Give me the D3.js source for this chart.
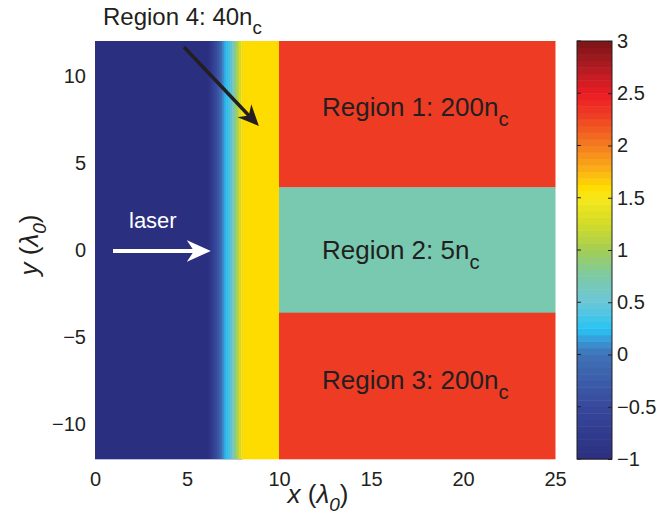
<!DOCTYPE html>
<html><head><meta charset="utf-8">
<script src="https://cdn.jsdelivr.net/npm/d3@7"></script>
<style>body{margin:0;background:#fff}svg{display:block}text{font-family:"Liberation Sans",Arial,Helvetica,sans-serif}</style>
</head><body><svg id="c" width="656" height="522"></svg>
<script>
// ---- data ----
const xDomain = [0, 25];
const yDomain = [-12, 12];
const xTicks = [0, 5, 10, 15, 20, 25];
const yTicks = [-10, -5, 0, 5, 10];
const cTicks = [-1, -0.5, 0, 0.5, 1, 1.5, 2, 2.5, 3];
const cDomain = [-1, 3];
// log10(n/nc) blocks
const regionNames = ["vacuum", "Region 4", "Region 1", "Region 2", "Region 3"];
const regionX0 = [0, 8, 10, 10, 10];
const regionX1 = [8, 10, 25, 25, 25];
const regionY0 = [-12, -12, 3.6, -3.6, -12];
const regionY1 = [12, 12, 12, 3.6, -3.6];
const regionVal = [-1, 1.602, 2.301, 0.699, 2.301];
// pre-plasma ramp columns, 0.1 lambda wide
const rampX = [6.0, 6.1, 6.2, 6.3, 6.4, 6.5, 6.6, 6.7, 6.8, 6.9, 7.0, 7.1, 7.2, 7.3, 7.4, 7.5, 7.6, 7.7, 7.8, 7.9];
const rampVal = [-1.0, -0.95, -0.86, -0.76, -0.64, -0.52, -0.38, -0.23, -0.07, 0.07, 0.17, 0.26, 0.34, 0.44, 0.56, 0.71, 0.89, 1.08, 1.28, 1.48];
// colormap stops
const cmapVal = [-1, -0.5, 0, 0.12, 0.25, 0.5, 0.75, 1.0, 1.25, 1.5, 1.6, 1.75, 2.0, 2.3, 2.5, 2.75, 3];
const cmapCol = ["#2b2f80", "#37489c", "#3f72b6", "#3a95d4", "#27c4f3", "#6cc7d8", "#7cc9a7", "#a3cd55", "#d2dc28", "#f6e71a", "#fedd00", "#fbb415", "#f47d20", "#ee3b24", "#ec1c24", "#b11c22", "#7a1416"];

// ---- layout ----
const svg = d3.select("#c");
const INK = "#231f20";
const L = 95, R = 555, T = 41, B = 459;
const x = d3.scaleLinear().domain(xDomain).range([L, R]);
const y = d3.scaleLinear().domain(yDomain).range([B, T]);
const cont = d3.scaleLinear().domain(cmapVal).range(cmapCol).interpolate(d3.interpolateRgb).clamp(true);
const nLev = 64;

const g = svg.append("g");
g.selectAll("rect.reg").data(regionVal).join("rect")
  .attr("x", (d, i) => x(regionX0[i])).attr("width", (d, i) => x(regionX1[i]) - x(regionX0[i]) + 0.5)
  .attr("y", (d, i) => y(regionY1[i])).attr("height", (d, i) => y(regionY0[i]) - y(regionY1[i]) + 0.3)
  .attr("fill", d => cont(d));
g.selectAll("rect.ramp").data(rampVal).join("rect")
  .attr("x", (d, i) => x(rampX[i])).attr("width", x(0.1) - x(0) + 0.4)
  .attr("y", y(yDomain[1])).attr("height", y(yDomain[0]) - y(yDomain[1]))
  .attr("fill", d => cont(d));

// axes
const fs = 20;
const fmt = d => d < 0 ? "\u2212" + Math.abs(d) : String(d);
const xa = svg.append("g").attr("transform", `translate(0,${B})`)
  .call(d3.axisBottom(x).tickValues(xTicks).tickSize(0).tickPadding(11).tickFormat(fmt));
const ya = svg.append("g").attr("transform", `translate(${L},0)`)
  .call(d3.axisLeft(y).tickValues(yTicks).tickSize(0).tickPadding(9).tickFormat(fmt));
[xa, ya].forEach(a => { a.select(".domain").remove(); a.selectAll("text").attr("font-size", fs).attr("font-family", '"Liberation Sans",Arial,sans-serif').attr("fill", INK); });
xa.selectAll("text").attr("dy", "0.78em");

// axis labels
function axisTitle(t, v) {
  t.append("tspan").attr("font-style", "italic").text(v);
  t.append("tspan").text(" (");
  t.append("tspan").attr("font-style", "italic").text("\u03bb");
  t.append("tspan").attr("font-style", "italic").attr("font-size", 19).attr("dy", 8).text("0");
  t.append("tspan").attr("dy", -8).text(")");
}
axisTitle(svg.append("text").attr("x", 318).attr("y", 503).attr("text-anchor", "middle").attr("font-size", 26).attr("fill", INK), "x");
axisTitle(svg.append("text").attr("transform", "translate(38,245) rotate(-90)").attr("text-anchor", "middle").attr("font-size", 26).attr("fill", INK), "y");

// region labels
function label(txt, sub, lx, ly, size) {
  const t = svg.append("text").attr("x", lx).attr("y", ly).attr("font-size", size).attr("fill", INK);
  t.append("tspan").text(txt);
  t.append("tspan").attr("font-size", size * 0.78).attr("dy", size * 0.38).text(sub);
  return t;
}
label("Region 1: 200n", "c", 322, 116, 26);
label("Region 2: 5n", "c", 322, 259, 26);
label("Region 3: 200n", "c", 322, 389, 26);
label("Region 4: 40n", "c", 103, 25, 24);
svg.append("text").attr("x", 129).attr("y", 228).attr("font-size", 22).attr("fill", "#fff").text("laser");

// arrows
const defs = svg.append("defs");
function arrow(id, col) {
  defs.append("marker").attr("id", id).attr("viewBox", "0 0 10 10").attr("refX", 8).attr("refY", 5)
    .attr("markerWidth", 6).attr("markerHeight", 6).attr("orient", "auto").attr("markerUnits", "strokeWidth")
    .append("path").attr("d", "M0,0.5 L10,5 L0,9.5 L3,5 Z").attr("fill", col);
}
arrow("ab", INK); arrow("aw", "#fff");
svg.append("line").attr("x1", 184).attr("y1", 47).attr("x2", 256).attr("y2", 123).attr("stroke", INK).attr("stroke-width", 3.5).attr("marker-end", "url(#ab)");
svg.append("line").attr("x1", 113).attr("y1", 251).attr("x2", 206).attr("y2", 251).attr("stroke", "#fff").attr("stroke-width", 4).attr("marker-end", "url(#aw)");

// colorbar
const CL = 577, CR = 612;
const cy = d3.scaleLinear().domain(cDomain).range([B, T]);
const levels = d3.range(nLev);
const step = (cDomain[1] - cDomain[0]) / nLev;
svg.selectAll("rect.cb").data(levels).join("rect")
  .attr("x", CL).attr("width", CR - CL)
  .attr("y", k => cy(cDomain[0] + (k + 1) * step))
  .attr("height", k => cy(cDomain[0]) - cy(cDomain[0] + step) + 0.5)
  .attr("fill", k => cont(cDomain[0] + (k + 0.5) * step));
svg.append("rect").attr("x", CL).attr("y", T).attr("width", CR - CL).attr("height", B - T).attr("fill", "none").attr("stroke", INK).attr("stroke-width", 1);
const ca = svg.append("g").attr("transform", `translate(${CR},0)`)
  .call(d3.axisRight(cy).tickValues(cTicks).tickSize(-4).tickPadding(5).tickFormat(fmt));
ca.select(".domain").remove();
ca.selectAll("line").attr("stroke", INK);
ca.selectAll("text").attr("font-size", fs).attr("font-family", '"Liberation Sans",Arial,sans-serif').attr("fill", INK);
svg.append("g").selectAll("line").data(cTicks).join("line")
  .attr("x1", CL).attr("x2", CL + 4).attr("y1", d => cy(d)).attr("y2", d => cy(d)).attr("stroke", INK);
</script></body></html>
